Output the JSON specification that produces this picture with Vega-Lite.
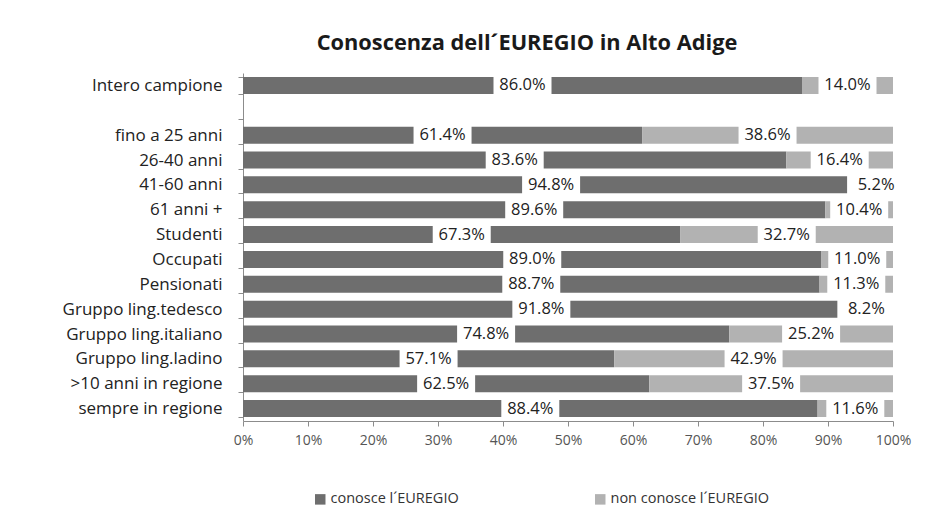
{
  "$schema": "https://vega.github.io/schema/vega-lite/v6.json",
  "width": 650,
  "height": 348,
  "autosize": {"type": "none"},
  "padding": {"left": 243, "top": 73, "right": 32, "bottom": 105},
  "background": "white",
  "config": {"view": {"stroke": null}},
  "title": {"text": "Conoscenza dell´EUREGIO in Alto Adige", "anchor": "middle", "frame": "group", "dx": -41, "fontSize": 21.8, "font": "Open Sans", "fontWeight": "bold", "color": "#1a1a1a", "offset": 9},
  "data": {"values": [
    {"categoria": "Intero campione", "gruppo": "conosce l´EUREGIO", "value": 0.860},
    {"categoria": "Intero campione", "gruppo": "non conosce l´EUREGIO", "value": 0.140},
    {"categoria": "fino a 25 anni", "gruppo": "conosce l´EUREGIO", "value": 0.614},
    {"categoria": "fino a 25 anni", "gruppo": "non conosce l´EUREGIO", "value": 0.386},
    {"categoria": "26-40 anni", "gruppo": "conosce l´EUREGIO", "value": 0.836},
    {"categoria": "26-40 anni", "gruppo": "non conosce l´EUREGIO", "value": 0.164},
    {"categoria": "41-60 anni", "gruppo": "conosce l´EUREGIO", "value": 0.948},
    {"categoria": "41-60 anni", "gruppo": "non conosce l´EUREGIO", "value": 0.052},
    {"categoria": "61 anni +", "gruppo": "conosce l´EUREGIO", "value": 0.896},
    {"categoria": "61 anni +", "gruppo": "non conosce l´EUREGIO", "value": 0.104},
    {"categoria": "Studenti", "gruppo": "conosce l´EUREGIO", "value": 0.673},
    {"categoria": "Studenti", "gruppo": "non conosce l´EUREGIO", "value": 0.327},
    {"categoria": "Occupati", "gruppo": "conosce l´EUREGIO", "value": 0.890},
    {"categoria": "Occupati", "gruppo": "non conosce l´EUREGIO", "value": 0.110},
    {"categoria": "Pensionati", "gruppo": "conosce l´EUREGIO", "value": 0.887},
    {"categoria": "Pensionati", "gruppo": "non conosce l´EUREGIO", "value": 0.113},
    {"categoria": "Gruppo ling.tedesco", "gruppo": "conosce l´EUREGIO", "value": 0.918},
    {"categoria": "Gruppo ling.tedesco", "gruppo": "non conosce l´EUREGIO", "value": 0.082},
    {"categoria": "Gruppo ling.italiano", "gruppo": "conosce l´EUREGIO", "value": 0.748},
    {"categoria": "Gruppo ling.italiano", "gruppo": "non conosce l´EUREGIO", "value": 0.252},
    {"categoria": "Gruppo ling.ladino", "gruppo": "conosce l´EUREGIO", "value": 0.571},
    {"categoria": "Gruppo ling.ladino", "gruppo": "non conosce l´EUREGIO", "value": 0.429},
    {"categoria": ">10 anni in regione", "gruppo": "conosce l´EUREGIO", "value": 0.625},
    {"categoria": ">10 anni in regione", "gruppo": "non conosce l´EUREGIO", "value": 0.375},
    {"categoria": "sempre in regione", "gruppo": "conosce l´EUREGIO", "value": 0.884},
    {"categoria": "sempre in regione", "gruppo": "non conosce l´EUREGIO", "value": 0.116}
  ]},
  "transform": [
    {"stack": "value", "groupby": ["categoria"], "sort": [{"field": "gruppo", "order": "ascending"}], "as": ["v0", "v1"]}
  ],
  "encoding": {
    "y": {
      "field": "categoria", "type": "nominal",
      "scale": {"domain": ["Intero campione", " ", "fino a 25 anni", "26-40 anni", "41-60 anni", "61 anni +", "Studenti", "Occupati", "Pensionati", "Gruppo ling.tedesco", "Gruppo ling.italiano", "Gruppo ling.ladino", ">10 anni in regione", "sempre in regione"], "paddingInner": 0.316, "paddingOuter": 0.158},
      "axis": {"title": null, "tickBand": "extent", "tickSize": 5, "tickColor": "#8c8c8c", "domainColor": "#8c8c8c", "labelPadding": 16, "labelFont": "Open Sans", "labelFontSize": 17, "labelColor": "#222222", "labelLimit": 300}
    }
  },
  "layer": [
    {
      "mark": {"type": "bar"},
      "encoding": {
        "x": {"field": "v0", "type": "quantitative", "scale": {"domain": [0, 1], "nice": false},
              "axis": {"title": null, "format": ".0%", "values": [0, 0.1, 0.2, 0.3, 0.4, 0.5, 0.6, 0.7, 0.8, 0.9, 1], "grid": false, "tickSize": 5, "tickColor": "#8c8c8c", "domainColor": "#8c8c8c", "labelFlush": false, "labelPadding": 7, "labelFont": "Open Sans", "labelFontSize": 14, "labelColor": "#555555"}},
        "x2": {"field": "v1"},
        "color": {"field": "gruppo", "type": "nominal",
                  "scale": {"domain": ["conosce l´EUREGIO", "non conosce l´EUREGIO"], "range": ["#6e6e6e", "#b2b2b2"]},
                  "legend": {"title": null, "orient": "none", "legendX": 70, "legendY": 419, "direction": "horizontal", "symbolType": "square", "symbolSize": 110, "symbolStrokeWidth": 0, "labelFont": "Open Sans", "labelFontSize": 14.5, "labelColor": "#333333", "labelOffset": 3, "labelLimit": 400, "columnPadding": 134}}
      }
    },
    {
      "transform": [
        {"fold": ["v0", "v1"], "as": ["k", "pos"]},
        {"aggregate": [{"op": "mean", "field": "pos", "as": "mid"}], "groupby": ["categoria", "gruppo", "value"]}
      ],
      "mark": {"type": "tick", "color": "white", "thickness": 58, "size": 19, "opacity": 1},
      "encoding": {"x": {"field": "mid", "type": "quantitative"}}
    },
    {
      "transform": [
        {"fold": ["v0", "v1"], "as": ["k", "pos"]},
        {"aggregate": [{"op": "mean", "field": "pos", "as": "mid"}], "groupby": ["categoria", "gruppo", "value"]}
      ],
      "mark": {"type": "text", "font": "Open Sans", "fontSize": 16.5, "color": "#222222", "baseline": "middle", "align": "center"},
      "encoding": {
        "x": {"field": "mid", "type": "quantitative"},
        "text": {"field": "value", "type": "quantitative", "format": ".1%"}
      }
    }
  ]
}
